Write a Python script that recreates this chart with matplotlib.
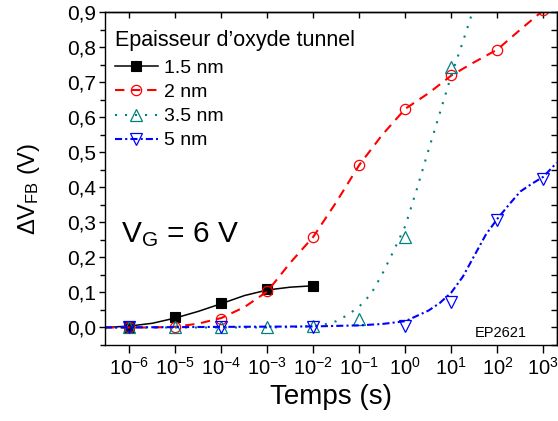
import numpy as np
import matplotlib
matplotlib.use('Agg')
import matplotlib.pyplot as plt
from matplotlib.lines import Line2D
from matplotlib.ticker import LogLocator, NullLocator, MultipleLocator, FuncFormatter

plt.rcParams['font.family'] = ['Liberation Sans', 'DejaVu Sans']
plt.rcParams['mathtext.fontset'] = 'custom'
plt.rcParams['mathtext.rm'] = 'Liberation Sans'
plt.rcParams['mathtext.it'] = 'Liberation Sans:italic'
plt.rcParams['mathtext.bf'] = 'Liberation Sans:bold'

# ---- measured points ----
t15 = [1e-6, 1e-5, 1e-4, 1e-3, 1e-2]
v15 = [0.0, 0.029, 0.069, 0.111, 0.119]

t2 = [1e-6, 1e-5, 1e-4, 1e-3, 1e-2, 1e-1, 1e0, 1e1, 1e2, 1e3]
v2 = [0.0, 0.001, 0.024, 0.103, 0.259, 0.464, 0.624, 0.719, 0.793, 0.905]

t35 = [1e-6, 1e-5, 1e-4, 1e-3, 1e-2, 1e-1, 1e0, 1e1]
v35 = [0.0, 0.0, 0.0, 0.002, 0.004, 0.025, 0.259, 0.742]

t5 = [1e-6, 1e-4, 1e-2, 1e0, 1e1, 1e2, 1e3]
v5 = [0.0, 0.0, 0.0, 0.004, 0.072, 0.307, 0.424]

# ---- fit curves (log10(t), value) ----
fit15_logt = [-6.53, -6.0, -5.5, -5.0, -4.5, -4.0, -3.5, -3.0, -2.5, -2.0]
fit15_v = [0.0, 0.004, 0.012, 0.027, 0.046, 0.068, 0.091, 0.107, 0.115, 0.119]

fit2_logt = [-6.53, -6.0, -5.5, -5.0, -4.5, -4.0, -3.5, -3.0, -2.5, -2.0, -1.5,
             -1.0, -0.5, 0.0, 0.5, 1.0, 1.5, 2.0, 2.5, 3.0, 3.3]
fit2_v = [0.0, 0.0, 0.0, 0.002, 0.011, 0.027, 0.058, 0.103, 0.185, 0.259, 0.358,
          0.464, 0.55, 0.624, 0.668, 0.719, 0.757, 0.793, 0.85, 0.905, 0.94]

fit35_logt = [-6.53, -3.0, -2.5, -2.0, -1.75, -1.5, -1.25, -1.0, -0.75, -0.5, -0.25,
              0.0, 0.25, 0.5, 0.75, 1.0, 1.25, 1.46, 1.5]
fit35_v = [0.0, 0.0, 0.001, 0.004, 0.009, 0.018, 0.036, 0.06, 0.095, 0.153, 0.22,
           0.29, 0.395, 0.505, 0.612, 0.72, 0.815, 0.9, 0.915]

fit5_logt = [-6.53, -2.0, -1.0, -0.5, 0.0, 0.5, 0.75, 1.0, 1.25, 1.5, 1.75, 2.0,
             2.25, 2.5, 2.75, 3.0, 3.29]
fit5_v = [0.0, 0.003, 0.006, 0.01, 0.018, 0.048, 0.07, 0.1, 0.145, 0.205, 0.265, 0.31,
          0.35, 0.388, 0.41, 0.43, 0.47]

labels = ['1.5 nm', '2 nm', '3.5 nm', '5 nm']
legend_title = 'Epaisseur d\u2019oxyde tunnel'

fig = plt.figure(figsize=(5.58, 4.21), dpi=100)
ax = fig.add_axes([105 / 558, (421 - 345) / 421, (556.7 - 105) / 558, (345 - 12) / 421])
ax.set_xscale('log')

lw = 1.5
s15 = dict(color='black', ls='-', lw=1.1, marker='s', ms=7.2, mfc='black', mec='black', mew=0.8)
s2 = dict(color='#ff0000', ls=(0, (4.5, 3.2)), lw=lw, marker='o', ms=7.4, mfc='none', mec='#ff0000', mew=0.9)
s35 = dict(color='#008080', ls=(0, (1, 3.8)), lw=lw, marker='^', ms=8.2, mfc='none', mec='#008080', mew=0.9)
s5 = dict(color='#0000ff', ls=(0, (3.4, 1.5, 1, 1.5)), lw=lw, marker='v', ms=8.2, mfc='none', mec='#0000ff', mew=0.9)

def line_only(st):
    return {k: v for k, v in st.items() if k in ('color', 'ls', 'lw')}

def mark_only(st):
    d = {k: v for k, v in st.items() if k in ('marker', 'ms', 'mfc', 'mec', 'mew')}
    d['ls'] = 'none'
    return d

series = [
    (fit15_logt, fit15_v, t15, v15, s15),
    (fit2_logt, fit2_v, t2, v2, s2),
    (fit35_logt, fit35_v, t35, v35, s35),
    (fit5_logt, fit5_v, t5, v5, s5),
]
for ft, fv, t, v, st in series:
    ax.plot(10.0 ** np.array(ft), fv, **line_only(st))
    ax.plot(t, v, **mark_only(st))

ax.set_xlim(10 ** -6.53, 10 ** 3.29)
ax.set_ylim(-0.05, 0.9)

# ticks
ax.xaxis.set_major_locator(LogLocator(base=10, numticks=30))
ax.xaxis.set_minor_locator(NullLocator())
ax.yaxis.set_major_locator(MultipleLocator(0.1))
ax.yaxis.set_minor_locator(MultipleLocator(0.05))
ax.yaxis.set_major_formatter(FuncFormatter(lambda v, p: ('%.1f' % abs(v) if abs(v) < 1e-9 else '%.1f' % v).replace('.', ',')))
ax.tick_params(axis='x', which='major', direction='out', length=5.5, width=1.0,
               labelsize=14.5, pad=3, top=False)
ax.tick_params(axis='y', which='major', direction='out', length=4.5, width=1.0,
               labelsize=15, pad=2, right=False)
ax.tick_params(axis='y', which='minor', direction='out', length=3.5, width=1.0, right=False)
for sp in ax.spines.values():
    sp.set_linewidth(1.0)

secx = ax.secondary_xaxis('top')
secx.xaxis.set_major_locator(LogLocator(base=10, numticks=30))
secx.xaxis.set_minor_locator(NullLocator())
secx.tick_params(axis='x', which='both', direction='in', length=4, width=1.0, labeltop=False)
secx.spines['top'].set_linewidth(1.0)

secy = ax.secondary_yaxis('right')
secy.yaxis.set_major_locator(MultipleLocator(0.1))
secy.yaxis.set_minor_locator(MultipleLocator(0.05))
secy.tick_params(axis='y', which='both', direction='in', length=4, width=1.0, labelright=False)
secy.spines['right'].set_linewidth(1.0)

ax.set_xlabel('Temps (s)', fontsize=20, labelpad=4)
ax.set_ylabel('\u0394V$_{\\mathregular{FB}}$ (V)', fontsize=17)
ax.yaxis.set_label_coords(-0.14, 0.47)

handles = [Line2D([], [], **st) for st in (s15, s2, s35, s5)]
leg = ax.legend(handles, labels, title=legend_title, loc='upper left',
                bbox_to_anchor=(0.022, 0.945), frameon=False, fontsize=14,
                title_fontsize=15.5, handlelength=2.2, handletextpad=0.3,
                labelspacing=0.33, borderpad=0, borderaxespad=0, numpoints=1,
                alignment='left')
leg._legend_box.sep = 6

ax.text(0.035, 0.31, 'V$_{\\mathregular{G}}$ = 6 V', transform=ax.transAxes,
        fontsize=21.5, ha='left', va='baseline')
ax.text(0.934, 0.025, 'EP2621', transform=ax.transAxes, fontsize=10.5,
        ha='right', va='baseline')

fig.savefig('out.png', dpi=100)
